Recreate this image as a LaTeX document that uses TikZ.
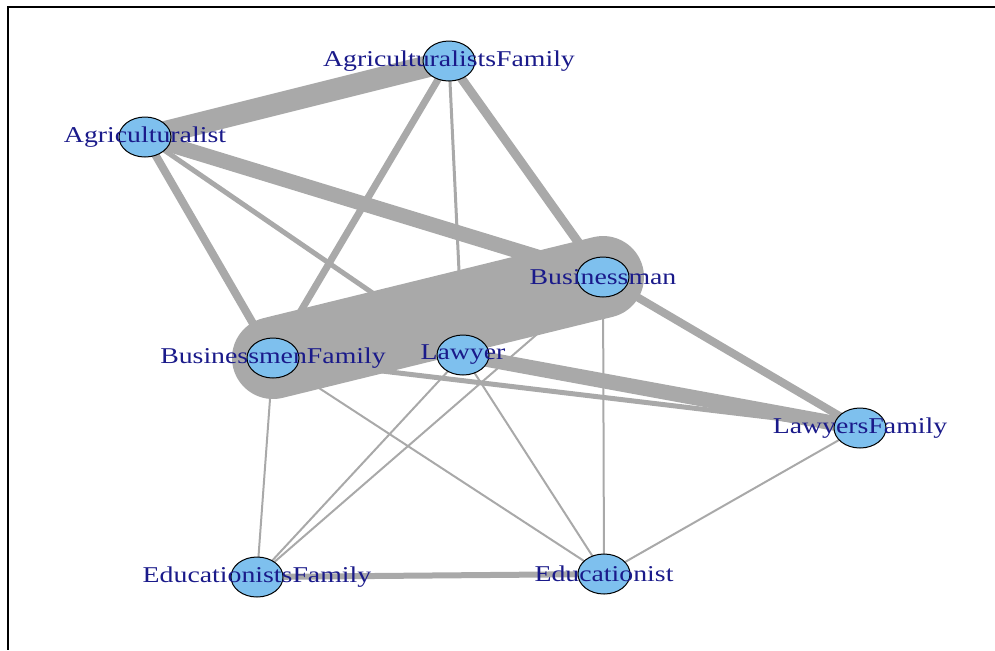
\documentclass[tikz,border=0pt]{standalone}
\usepackage{fontspec}
\setmainfont{Liberation Serif}
\usetikzlibrary{backgrounds, shapes.geometric, positioning}
\definecolor{vfill}{HTML}{7EC0EE}
\definecolor{tiegray}{HTML}{A9A9A9}
\definecolor{lblblue}{HTML}{1A1A8A}
\newcommand{\wide}[1]{\scalebox{1.23}[1]{#1}}
\tikzset{%
  % Specifications for style of nodes:
            vertex/.style = {ellipse, draw=black, line width=0.5pt,
                            fill=vfill, minimum width=26pt, minimum
                            height=20pt, inner sep=0pt},
            vname/.style = {text=lblblue, inner sep=0pt,
                            font=\fontsize{11.3}{12}\selectfont},
            tie/.style = {draw=tiegray, line cap=round}
}

\begin{document}
\begin{tikzpicture}[x=0.5pt, y=-0.5pt]
                        \useasboundingbox (0,0) rectangle (995,650);
                        \draw[line width=1.4pt] (995,7) -- (8,7) -- (8,650);
                        % vertices
                        \node[vertex] (agf) at (449,61) {};
                        \node[vertex] (agr) at (145,137) {};
                        \node[vertex] (bus) at (603,277) {};
                        \node[vertex] (bfam) at (273,358) {};
                        \node[vertex] (law) at (463,355) {};
                        \node[vertex] (lfam) at (860,428) {};
                        \node[vertex] (efam) at (257,577) {};
                        \node[vertex] (edu) at (604,574) {};
                        % edges, under the vertices
                        \begin{scope}[on background layer]
                        \draw[tie, line width=41pt] (bfam.center) -- (bus.center);
                        \draw[tie, line width=11pt] (agr.center) -- (agf.center);
                        \draw[tie, line width=7.5pt] (agr.center) -- (bus.center);
                        \draw[tie, line width=4pt] (agr.center) -- (bfam.center);
                        \draw[tie, line width=2.5pt] (agr.center) -- (law.center);
                        \draw[tie, line width=4.5pt] (agf.center) -- (bus.center);
                        \draw[tie, line width=3.5pt] (agf.center) -- (bfam.center);
                        \draw[tie, line width=1.5pt] (agf.center) -- (law.center);
                        \draw[tie, line width=4pt] (bus.center) -- (lfam.center);
                        \draw[tie, line width=1pt] (bus.center) -- (edu.center);
                        \draw[tie, line width=1pt] (bus.center) -- (efam.center);
                        \draw[tie, line width=7.5pt] (law.center) -- (lfam.center);
                        \draw[tie, line width=2.5pt] (bfam.center) -- (lfam.center);
                        \draw[tie, line width=1pt] (bfam.center) -- (efam.center);
                        \draw[tie, line width=1pt] (bfam.center) -- (edu.center);
                        \draw[tie, line width=1pt] (law.center) -- (efam.center);
                        \draw[tie, line width=1pt] (law.center) -- (edu.center);
                        \draw[tie, line width=1pt] (lfam.center) -- (edu.center);
                        \draw[tie, line width=3pt] (efam.center) -- (edu.center);
                        \end{scope}
                        % names on top
                        \node[vname] (agf-l) at (agf) {\wide{AgriculturalistsFamily}};
                        \node[vname] (agr-l) at (agr) {\wide{Agriculturalist}};
                        \node[vname] (bus-l) at (bus) {\wide{Businessman}};
                        \node[vname] (bfam-l) at (bfam) {\wide{BusinessmenFamily}};
                        \node[vname] (law-l) at (law) {\wide{Lawyer}};
                        \node[vname] (lfam-l) at (lfam) {\wide{LawyersFamily}};
                        \node[vname] (efam-l) at (efam) {\wide{EducationistsFamily}};
                        \node[vname] (edu-l) at (edu) {\wide{Educationist}};
                    \end{tikzpicture}
\end{document}
